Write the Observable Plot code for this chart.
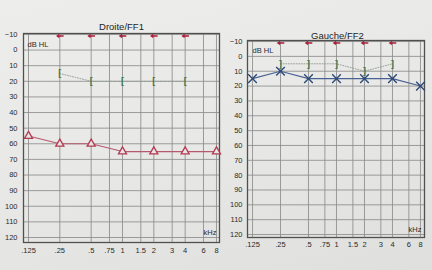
<!DOCTYPE html>
<html><head><meta charset="utf-8">
<script src="https://cdn.jsdelivr.net/npm/d3@7"></script>
<script src="https://cdn.jsdelivr.net/npm/@observablehq/plot@0.6"></script>
<style>
html,body{margin:0;padding:0;}
#page{position:relative;width:432px;height:270px;overflow:hidden;background:linear-gradient(165deg,#ededeb 0%,#e8e8e6 50%,#dfdfdd 100%);font-family:"Liberation Sans",Arial,sans-serif;}
#left,#right{position:absolute;top:0;}
#left{left:0;} #right{left:224px;}
</style></head><body><div id="page"><div id="left"></div><div id="right"></div></div>
<script>
const freqTicks = [0.125,0.25,0.5,0.75,1,1.5,2,3,4,6,8];
const dbTicks = [-10,0,10,20,30,40,50,60,70,80,90,100,110,120];
const panelTitles = ["Droite/FF1","Gauche/FF2"];
const unitY = "dB HL";
const unitX = "kHz";
// Droite (right ear)
const droiteArrowFreq = [0.25,0.5,1,2,4];
const droiteArrowDb = [-10,-10,-10,-10,-10];
const droiteBoneFreq = [0.25,0.5,1,2,4];
const droiteBoneDb = [15,20,20,20,20];
const droiteAirFreq = [0.125,0.25,0.5,1,2,4,8];
const droiteAirDb = [55,60,60,65,65,65,65];
// Gauche (left ear)
const gaucheArrowFreq = [0.25,0.5,1,2,4];
const gaucheArrowDb = [-10,-10,-10,-10,-10];
const gaucheBoneFreq = [0.25,0.5,1,2,4];
const gaucheBoneDb = [5,5,5,10,5];
const gaucheAirFreq = [0.125,0.25,0.5,1,2,4,8];
const gaucheAirDb = [15,10,15,15,15,15,20];

const zip = (fs, ds) => fs.map((f, i) => ({f, db: ds[i]}));
const fmt = d => d < 1 ? String(d).replace(/^0/, "") : String(d);

const arrowSymbol = {
  draw(ctx, size) {
    const s = Math.sqrt(size / Math.PI);
    ctx.moveTo(-s, 0);
    ctx.lineTo(-0.15 * s, -0.6 * s);
    ctx.lineTo(-0.15 * s, 0.6 * s);
    ctx.closePath();
    ctx.moveTo(-0.2 * s, -0.2 * s);
    ctx.lineTo(s, -0.2 * s);
    ctx.lineTo(s, 0.2 * s);
    ctx.lineTo(-0.2 * s, 0.2 * s);
    ctx.closePath();
  }
};

function audiogram(cfg) {
  const arrows = zip(cfg.arrowF, cfg.arrowDb);
  const bone = zip(cfg.boneF, cfg.boneDb);
  const air = zip(cfg.airF, cfg.airDb);
  return Plot.plot({
    width: cfg.width, height: 270,
    marginLeft: cfg.ml, marginRight: cfg.mr, marginTop: cfg.mt, marginBottom: cfg.mb,
    style: {background: "transparent", color: "#2a2a2a", fontFamily: "Liberation Sans, Arial, sans-serif", overflow: "visible"},
    x: {type: "log", domain: cfg.xDomain, axis: null},
    y: {domain: cfg.yDomain, reverse: true},
    marks: [
      Plot.gridX(freqTicks, {stroke: "#8c8c8c", strokeOpacity: 1, strokeWidth: 0.85}),
      Plot.gridY(dbTicks, {stroke: "#8c8c8c", strokeOpacity: 1, strokeWidth: 0.85}),
      Plot.frame({stroke: "#505050", strokeWidth: 1.3}),
      Plot.text(freqTicks, {x: d => d, text: fmt, frameAnchor: "bottom", lineAnchor: "top", dy: cfg.xPad, fontSize: 7.5, fill: "#2a2a2a"}),
      Plot.axisY(dbTicks, {tickSize: 0, tickPadding: cfg.yPad, fontSize: 7.5, label: null}),
      Plot.text([cfg.title], {text: d => d, frameAnchor: "top", lineAnchor: "bottom", dy: cfg.titleDy, dx: cfg.titleDx, fontSize: 9.5, fill: "#1e1e1e"}),
      Plot.text([unitY], {text: d => d, frameAnchor: "top-left", lineAnchor: "middle", textAnchor: "start", dx: cfg.dbDx, dy: cfg.dbDy, fontSize: 7.5, fill: "#2a2a2a"}),
      Plot.text([unitX], {text: d => d, frameAnchor: "bottom-right", lineAnchor: "middle", textAnchor: "end", dx: -3, dy: cfg.khzDy, fontSize: 7.5, fill: "#2a2a2a"}),
      Plot.line(bone, {x: "f", y: "db", stroke: "#8e9a92", strokeWidth: 0.9, strokeDasharray: "1,1.6"}),
      Plot.text(bone, {x: "f", y: "db", text: () => cfg.boneGlyph, fill: "#3c7a50", fontSize: 9, fontWeight: "bold"}),
      Plot.line(air, {x: "f", y: "db", stroke: cfg.airLine, strokeWidth: 1.1}),
      cfg.airSymbol === "triangle"
        ? Plot.dot(air, {x: "f", y: "db", symbol: "triangle", r: 3, stroke: "#b23a52", strokeWidth: 1.3, fill: "#e6e6e4"})
        : Plot.dot(air, {x: "f", y: "db", symbol: "times", r: 4, stroke: "#2c4a7a", strokeWidth: 1.4}),
      Plot.dot(arrows, {x: "f", y: "db", symbol: arrowSymbol, r: 3.8, fill: "#b01e3a", stroke: "none", dy: 1.5})
    ]
  });
}

document.getElementById("left").append(audiogram({
  width: 224, ml: 23, mr: 5, mt: 33, mb: 28,
  xDomain: [0.1119, 8.55], yDomain: [-10.6, 123.2],
  xPad: 5, yPad: 6, title: panelTitles[0], titleDy: -3.5, titleDx: 0,
  dbDx: 4, dbDy: 11, khzDy: -10,
  arrowF: droiteArrowFreq, arrowDb: droiteArrowDb,
  boneF: droiteBoneFreq, boneDb: droiteBoneDb, boneGlyph: "[",
  airF: droiteAirFreq, airDb: droiteAirDb, airSymbol: "triangle", airLine: "#b45a6c"
}));
document.getElementById("right").append(audiogram({
  width: 208, ml: 23, mr: 8, mt: 40, mb: 33,
  xDomain: [0.1104, 8.84], yDomain: [-10.7, 122],
  xPad: 4, yPad: 5, title: panelTitles[1], titleDy: -1.5, titleDx: 1.5,
  dbDx: 5, dbDy: 10, khzDy: -8,
  arrowF: gaucheArrowFreq, arrowDb: gaucheArrowDb,
  boneF: gaucheBoneFreq, boneDb: gaucheBoneDb, boneGlyph: "]",
  airF: gaucheAirFreq, airDb: gaucheAirDb, airSymbol: "times", airLine: "#4a6292"
}));
</script></body></html>
